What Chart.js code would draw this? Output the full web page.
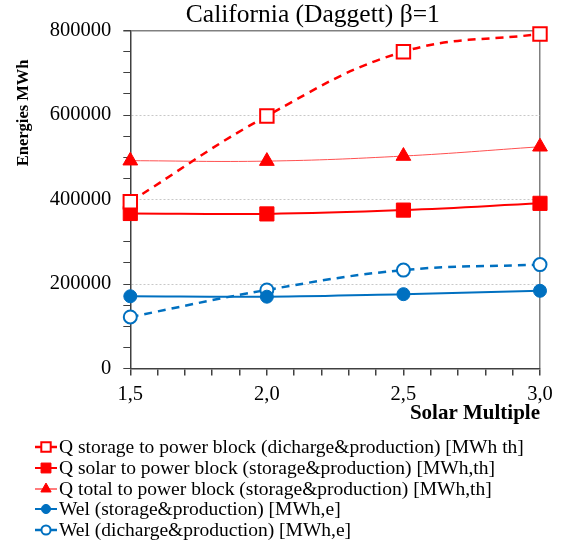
<!DOCTYPE html>
<html>
<head>
<meta charset="utf-8">
<script src="https://cdn.jsdelivr.net/npm/chart.js@4.4.1/dist/chart.umd.min.js"></script>
<style>
  html, body { margin: 0; padding: 0; background: #fff; }
  #wrap { position: relative; width: 572px; height: 555px; }
  #legend { position: absolute; left: 34px; top: 437px; font-family: "Liberation Serif", serif; font-size: 19.5px; color: #000; }
  .lg-row { display: flex; align-items: center; height: 20.7px; white-space: nowrap; }
  .lg-row canvas { margin-right: 1px; }
</style>
</head>
<body>
<div id="wrap">
  <canvas id="chart" width="572" height="555"></canvas>
  <div id="legend"></div>
</div>
<script>
const solarMultiple = [1.5, 2.0, 2.5, 3.0];
const qStorage = [395000, 598000, 750000, 792000];
const qSolar = [367000, 366000, 375000, 391000];
const qTotal = [492000, 491000, 503000, 525000];
const welStorage = [171000, 170000, 176000, 184000];
const welDischarge = [122000, 186000, 233000, 246000];

const RED = '#FF0000';
const BLUE = '#0070C0';

const pts = arr => arr.map((v, i) => ({ x: solarMultiple[i], y: v }));

const datasets = [
    { label: 'Q storage to power block (dicharge&production) [MWh th]', data: pts(qStorage),
      borderColor: RED, borderWidth: 2.5, borderDash: [8, 6], pointStyle: 'rect', pointRadius: 9.5,
      pointBackgroundColor: '#fff', pointBorderColor: RED, pointBorderWidth: 2 },
    { label: 'Q solar to power block (storage&production) [MWh,th]', data: pts(qSolar),
      borderColor: RED, borderWidth: 2, pointStyle: 'rect', pointRadius: 10,
      pointBackgroundColor: RED, pointBorderColor: RED, pointBorderWidth: 1 },
    { label: 'Q total to power block (storage&production)  [MWh,th]', data: pts(qTotal),
      borderColor: '#FF5050', borderWidth: 1, pointStyle: 'triangle', pointRadius: 8.5,
      pointBackgroundColor: RED, pointBorderColor: RED, pointBorderWidth: 1 },
    { label: 'Wel (storage&production) [MWh,e]', data: pts(welStorage),
      borderColor: BLUE, borderWidth: 2, pointStyle: 'circle', pointRadius: 6.5,
      pointBackgroundColor: BLUE, pointBorderColor: BLUE, pointBorderWidth: 1 },
    { label: 'Wel (dicharge&production) [MWh,e]', data: pts(welDischarge),
      borderColor: BLUE, borderWidth: 2.5, borderDash: [8, 6], pointStyle: 'circle', pointRadius: 6.5,
      pointBackgroundColor: '#fff', pointBorderColor: BLUE, pointBorderWidth: 2 }
];
datasets.forEach(d => { d.tension = 0.4; d.clip = false; d.fill = false; });

const isMult = (v, step) => Math.abs(v / step - Math.round(v / step)) < 1e-6;

const chart = new Chart(document.getElementById('chart'), {
    type: 'line',
    data: { datasets },
    options: {
        responsive: false,
        animation: false,
        layout: { padding: { left: 14, right: 32, top: 0, bottom: 139 } },
        plugins: {
            legend: { display: false },
            tooltip: { enabled: false },
            title: {
                // trailing spaces nudge the text left of the plot centre, as in the original
                display: true, text: 'California (Daggett) β=1       ', color: '#000', fullSize: false,
                font: { family: 'Liberation Serif', size: 25.5, weight: 'normal' },
                padding: { top: 0, bottom: 0 }
            }
        },
        scales: {
            x: {
                type: 'linear', min: 1.5, max: 3.0,
                ticks: {
                    stepSize: 0.1, autoSkip: false, maxRotation: 0, color: '#000', padding: 13,
                    font: { family: 'Liberation Serif', size: 20.5, lineHeight: 0.6 },
                    callback: v => isMult(v, 0.5) ? v.toFixed(1).replace('.', ',') : ''
                },
                grid: {
                    drawOnChartArea: true, tickLength: 7, tickColor: '#404040',
                    color: c => (c.tick && Math.abs(c.tick.value - 3.0) < 1e-6) ? '#808080' : 'rgba(0,0,0,0)',
                    lineWidth: 1.5
                },
                border: { color: '#404040', width: 1.5 },
                title: {
                    display: true, text: 'Solar Multiple', align: 'end', color: '#000',
                    font: { family: 'Liberation Serif', size: 21, weight: 'bold', lineHeight: 0.2 },
                    padding: { top: -2, bottom: 0 }
                }
            },
            y: {
                min: 0, max: 800000,
                ticks: {
                    stepSize: 50000, autoSkip: false, color: '#000', padding: 12,
                    font: { family: 'Liberation Serif', size: 20.5 },
                    callback: v => isMult(v, 200000) ? String(v) : ''
                },
                grid: {
                    tickLength: 7, tickColor: '#404040',
                    color: c => {
                        const v = c.tick ? c.tick.value : -1;
                        if (v === 800000) return '#808080';
                        if (v > 0 && isMult(v, 200000)) return '#c8c8c8';
                        return 'rgba(0,0,0,0)';
                    },
                    lineWidth: c => (c.tick && c.tick.value === 800000) ? 1.5 : 1
                },
                border: { color: '#404040', width: 1.5, dash: c => (c.tick && c.tick.value === 800000) ? [] : [2, 2] },
                title: {
                    display: true, text: 'Energies MWh       ', align: 'end', color: '#000',
                    font: { family: 'Liberation Serif', size: 16.5, weight: 'bold' },
                    padding: { top: 0, bottom: 4 }
                }
            }
        }
    }
});

// legend: short line with the series marker, then the label
const legendBox = document.getElementById('legend');
chart.data.datasets.forEach(ds => {
    const row = document.createElement('div');
    row.className = 'lg-row';
    const ic = document.createElement('canvas');
    ic.width = 24; ic.height = 20;
    const ctx = ic.getContext('2d');
    ctx.strokeStyle = ds.borderColor;
    ctx.lineWidth = Math.max(ds.borderWidth, 1.5);
    ctx.beginPath(); ctx.moveTo(1, 10); ctx.lineTo(23, 10); ctx.stroke();
    ctx.fillStyle = ds.pointBackgroundColor;
    ctx.strokeStyle = ds.pointBorderColor;
    ctx.lineWidth = ds.pointBorderWidth;
    Chart.helpers.drawPoint(ctx, { pointStyle: ds.pointStyle, radius: ds.pointRadius * 0.7, rotation: 0, borderWidth: ds.pointBorderWidth }, 12, 10);
    const tx = document.createElement('span');
    tx.textContent = ds.label;
    row.appendChild(ic); row.appendChild(tx);
    legendBox.appendChild(row);
});
</script>
</body>
</html>
